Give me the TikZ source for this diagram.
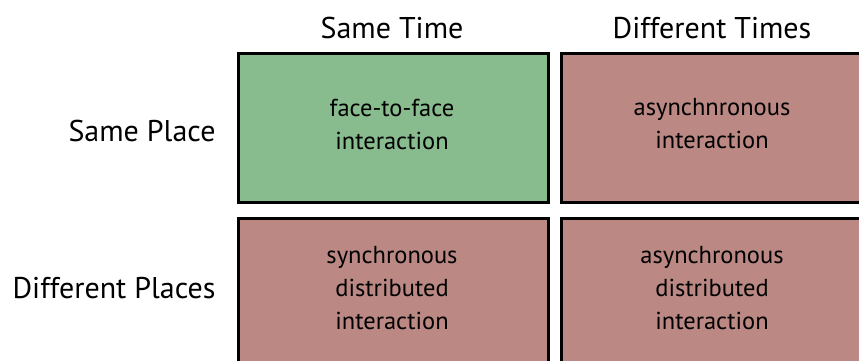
\documentclass[tikz,border=0pt]{standalone}
\usepackage{fontspec}
\setmainfont{PT Sans}
\definecolor{cellgreen}{HTML}{88BB8E}
\definecolor{cellred}{HTML}{BB8884}
\begin{document}
\begin{tikzpicture}[x=1pt,y=-1pt,
  cell/.style={draw=black,line width=3pt},
  celltext/.style={align=center,font=\fontsize{24.5}{33}\selectfont},
  head/.style={font=\fontsize{30}{34}\selectfont}]
\useasboundingbox (0,0) rectangle (859,361);
\clip (0,0) rectangle (859,361);
% grid of cells
\draw[cell,fill=cellgreen] (238,54) rectangle (548,202);
\draw[cell,fill=cellred] (561,54) rectangle (880,202);
\draw[cell,fill=cellred] (238,218) rectangle (548,380);
\draw[cell,fill=cellred] (561,218) rectangle (880,380);
% cell texts
\node[celltext] (ff) at (392,124) {face-to-face\\interaction};
\node[celltext] (ai) at (712,124) {asynchnronous\\interaction};
\node[celltext] (sd) at (392,288) {synchronous\\distributed\\interaction};
\node[celltext] (ad) at (712,288) {asynchronous\\distributed\\interaction};
% headings
\node[head] (st) at (392,28) {Same Time};
\node[head] (dt) at (712,28) {Different Times};
\node[head,anchor=east] (sp) at (219,131) {Same Place};
\node[head,anchor=east] (dp) at (219,288) {Different Places};
\end{tikzpicture}
\end{document}
